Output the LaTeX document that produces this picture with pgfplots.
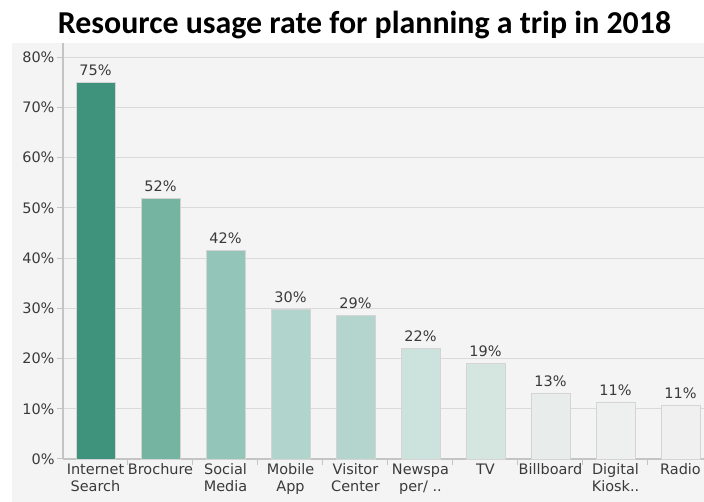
\documentclass[border=0pt]{standalone}
\usepackage{pgfplots}
\pgfplotsset{compat=1.18}
\usepackage{fontspec}
\setmainfont{DejaVu Sans}
\newfontfamily\titlefont{Carlito}
\definecolor{bg}{HTML}{F4F4F4}
\definecolor{gridc}{HTML}{DADADA}
\definecolor{axc}{HTML}{C4C4C4}
\definecolor{txt}{HTML}{3A3A3A}
\definecolor{bord}{HTML}{D4D4D4}
\definecolor{c0}{HTML}{3F927B}
\definecolor{c1}{HTML}{74B4A1}
\definecolor{c2}{HTML}{93C5B8}
\definecolor{c3}{HTML}{B1D4CC}
\definecolor{c4}{HTML}{B3D5CD}
\definecolor{c5}{HTML}{CCE2DC}
\definecolor{c6}{HTML}{D5E5E0}
\definecolor{c7}{HTML}{E8ECEA}
\definecolor{c8}{HTML}{EEF0EF}
\definecolor{c9}{HTML}{F0F0F0}
\begin{document}
\begin{tikzpicture}[x=1bp,y=1bp]
\useasboundingbox (0,0) rectangle (704,502);
\fill[bg] (12,0) rectangle (704,459);
\node[anchor=base,font=\titlefont\bfseries\fontsize{32}{36}\selectfont] at (364.5,468) {Resource usage rate for planning a trip in 2018};
\begin{axis}[
  at={(63bp,43bp)}, anchor=south west,
  scale only axis, width=641bp, height=416bp,
  xmin=-0.5, xmax=9.362, ymin=0, ymax=82.8,
  axis lines*=left,
  axis line style={draw=axc, line width=1.5bp},
  tick align=outside,
  major tick length=6bp,
  tick style={draw=axc, line width=1bp},
  ytick={0,10,...,80},
  yticklabels={0\%,10\%,20\%,30\%,40\%,50\%,60\%,70\%,80\%},
  ymajorgrids,
  grid style={draw=gridc, line width=1bp},
  xtick={0.5,1.5,...,8.5},
  xticklabels={},
  extra x ticks={0,1,...,9},
  extra x tick labels={{Internet\\Search},Brochure,{Social\\Media},{Mobile\\App},{Visitor\\Center},{Newspa\\per/ ..},TV,Billboard,{Digital\\Kiosk..},Radio},
  extra x tick style={grid=none, major tick length=0pt, tick style={draw=none}},
  x tick label style={align=center, anchor=north, yshift=-1bp, font=\fontsize{14.5}{17.5}\selectfont, text=txt},
  y tick label style={font=\fontsize{14.5}{17}\selectfont, text=txt, xshift=1bp},
  ybar, bar width=39bp, bar shift=0pt,
  point meta=explicit symbolic,
  nodes near coords,
  every node near coord/.append style={font=\fontsize{14.5}{17}\selectfont, text=txt, yshift=3bp},
  clip=false,
]
\addplot[fill=c0, draw=bord] coordinates {(0,75) [75\%]};
\addplot[fill=c1, draw=bord] coordinates {(1,52) [52\%]};
\addplot[fill=c2, draw=bord] coordinates {(2,41.5) [42\%]};
\addplot[fill=c3, draw=bord] coordinates {(3,29.8) [30\%]};
\addplot[fill=c4, draw=bord] coordinates {(4,28.6) [29\%]};
\addplot[fill=c5, draw=bord] coordinates {(5,22) [22\%]};
\addplot[fill=c6, draw=bord] coordinates {(6,19.1) [19\%]};
\addplot[fill=c7, draw=bord] coordinates {(7,13.1) [13\%]};
\addplot[fill=c8, draw=bord] coordinates {(8,11.3) [11\%]};
\addplot[fill=c9, draw=bord] coordinates {(9,10.7) [11\%]};
\end{axis}
\end{tikzpicture}
\end{document}
